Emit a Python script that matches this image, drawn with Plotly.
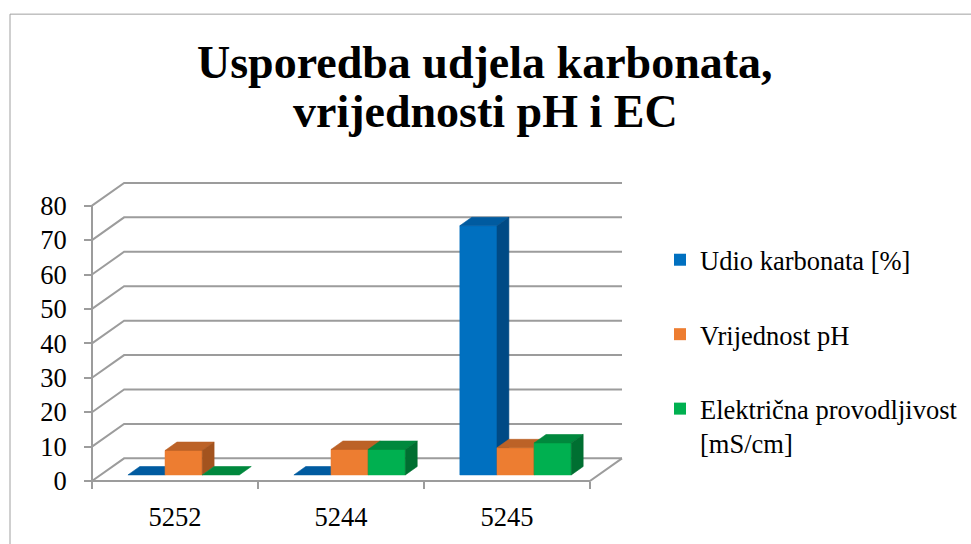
import plotly.graph_objects as go

# ---- data -------------------------------------------------------------
categories = ["5252", "5244", "5245"]
carbonate = [0.0, 0.0, 72.4]          # Udio karbonata [%]
ph_values = [7.1, 7.4, 7.9]           # Vrijednost pH
ec_values = [0.0, 7.4, 9.3]           # Električna provodljivost [mS/cm]
y_ticks = [0, 10, 20, 30, 40, 50, 60, 70, 80]

title_lines = ["Usporedba udjela karbonata,", "vrijednosti pH i EC"]
series_names = ["Udio karbonata [%]", "Vrijednost pH",
                "Električna provodljivost<br>[mS/cm]"]
series_values = [carbonate, ph_values, ec_values]
# (front, top, side) shades for each series
series_colors = [
    ("#0070C0", "#005BA0", "#004A85"),
    ("#ED7D31", "#BC6227", "#A3531E"),
    ("#00B050", "#00883D", "#006F31"),
]

# ---- pseudo-3D geometry ------------------------------------------------
Y_MAX = 80
DX, DY = 0.1935, 6.6          # depth of the floor / side wall, in axis units
F0, F1 = 0.27, 0.64           # front and back of the bars along the depth
BAR_W = 0.2238                # width of one bar in category units
bdx, bdy = (F1 - F0) * DX, (F1 - F0) * DY
base = F0 * DY

GRID = "#9C9C9C"
FONT = "'Liberation Serif', 'Times New Roman', Times, serif"
TXT = 26.5

# plot area in pixels: front axis at x=92, back wall ends at x=622,
# floor front edge at y=485, top of back wall at y=183 (4 px padding)
W, H = 971, 544
PAD = 4
PL, PR, PT, PB = 92 - PAD, 622 + PAD, 183 - PAD, 485 + PAD
x_lo, x_hi = -0.5, len(categories) - 0.5 + DX
y_lo, y_hi = 0, Y_MAX + DY
xpp = (x_hi - x_lo) / (622 - 92)
ypp = (y_hi - y_lo) / (485 - 183)


def paper_x(px):
    return (px - PL) / (PR - PL)


def paper_y(py):
    return (PB - py) / (PB - PT)


fig = go.Figure()

# real bars (front faces) - also provide the legend entries
for j, (name, vals, cols) in enumerate(zip(series_names, series_values, series_colors)):
    fig.add_trace(go.Bar(
        x=list(range(len(categories))), y=vals, base=base,
        width=BAR_W, offset=-1.5 * BAR_W + j * BAR_W + F0 * DX,
        marker=dict(color=cols[0], line=dict(width=0)),
        name=name, legendgroup=f"g{j}", hoverinfo="skip",
    ))

# walls and floor
wx, wy = [], []
for v in y_ticks:
    wx += [x_lo, x_lo + DX, x_hi, None]
    wy += [v, v + DY, v + DY, None]
wx += [x_lo, x_lo, None, x_lo, len(categories) - 0.5, len(categories) - 0.5 + DX, None]
wy += [0, Y_MAX, None, 0, 0, DY, None]
fig.add_trace(go.Scatter(x=wx, y=wy, mode="lines", line=dict(color=GRID, width=2),
                         showlegend=False, hoverinfo="skip"))


def poly_trace(xs, ys, color):
    return go.Scatter(x=xs, y=ys, mode="lines", fill="toself", fillcolor=color,
                      line=dict(width=0.6, color=color), showlegend=False,
                      hoverinfo="skip")


# 3D faces, series by series so later bars hide the side of earlier ones
for j, (vals, cols) in enumerate(zip(series_values, series_colors)):
    fx, fy, tx, ty, sx, sy = [], [], [], [], [], []
    for i, v in enumerate(vals):
        xl = i - 1.5 * BAR_W + j * BAR_W + F0 * DX
        xr = xl + BAR_W
        top = base + v
        if v > 0:
            fx += [xl, xr, xr, xl, xl, None]
            fy += [base, base, top, top, base, None]
            sx += [xr, xr, xr + bdx, xr + bdx, xr, None]
            sy += [base, top, top + bdy, base + bdy, base, None]
        tx += [xl, xr, xr + bdx, xl + bdx, xl, None]
        ty += [top, top, top + bdy, top + bdy, top, None]
    if fx:
        fig.add_trace(poly_trace(fx, fy, cols[0]))
    fig.add_trace(poly_trace(tx, ty, cols[1]))
    if sx:
        fig.add_trace(poly_trace(sx, sy, cols[2]))

# chart title, two lines
title_annotations = [
    dict(text=f"<b>{line}</b>", x=paper_x(485), y=paper_y(yc),
         xref="paper", yref="paper", xanchor="center", yanchor="middle",
         showarrow=False, font=dict(family=FONT, size=46, color="black"))
    for line, yc in zip(title_lines, [61, 111])
]

fig.update_layout(
    width=W, height=H,
    margin=dict(l=PL, r=W - PR, t=PT, b=H - PB),
    paper_bgcolor="white", plot_bgcolor="white",
    barmode="overlay", bargap=0,
    font=dict(family=FONT, color="black", size=TXT),
    annotations=title_annotations,
    legend=dict(
        x=660 / W, xref="container", xanchor="left",
        y=1 - 236 / H, yref="container", yanchor="top",
        font=dict(family=FONT, size=TXT, color="black"),
        tracegroupgap=37, valign="top", traceorder="grouped",
        bgcolor="rgba(0,0,0,0)",
    ),
    xaxis=dict(
        range=[x_lo - PAD * xpp, x_hi + PAD * xpp],
        tickvals=list(range(len(categories))), ticktext=categories,
        ticks="", showgrid=False, zeroline=False, showline=False,
        anchor="free", position=paper_y(485),
        ticklabelstandoff=17,
        minor=dict(tickvals=[k - 0.5 for k in range(len(categories) + 1)],
                   ticks="outside", ticklen=7, tickcolor=GRID, tickwidth=2,
                   showgrid=False),
        tickfont=dict(family=FONT, size=TXT, color="black"),
        fixedrange=True,
    ),
    yaxis=dict(
        range=[y_lo - PAD * ypp, y_hi + PAD * ypp],
        tickvals=y_ticks, ticks="outside", ticklen=8, tickcolor=GRID, tickwidth=2,
        showgrid=False, zeroline=False, showline=False,
        anchor="free", position=paper_x(92),
        ticklabelstandoff=12,
        tickfont=dict(family=FONT, size=TXT, color="black"),
        fixedrange=True,
    ),
    shapes=[dict(type="rect", xref="paper", yref="paper",
                 x0=paper_x(10), x1=paper_x(990),
                 y0=paper_y(570), y1=paper_y(12),
                 line=dict(color="#A0A0A0", width=1), fillcolor="rgba(0,0,0,0)",
                 layer="below")],
)

fig.write_html("out.html", config={"displayModeBar": False})
